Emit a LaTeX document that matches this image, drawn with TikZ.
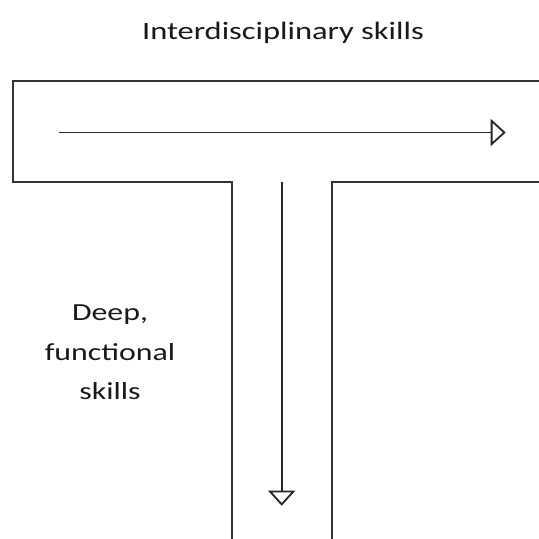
\documentclass[tikz,border=0pt]{standalone}
\usepackage{fontspec}
\setmainfont{Carlito}
\usetikzlibrary{arrows.meta}
\tikzset{
  outline/.style={draw=black!80, line width=2pt, line join=miter},
  flow/.style={draw=black!85, line width=1.8pt,
    -{Triangle[open, length=15pt, width=27pt, fill=white]}},
  label/.style={inner sep=0pt, xscale=1.3, text=black!90}
}
\begin{document}
\begin{tikzpicture}[x=1pt, y=1pt]
  \useasboundingbox (0,0) rectangle (539,539);
  \begin{scope}
    \clip (0,0) rectangle (539,539);
    % T-shaped outline: horizontal bar running off the right edge, stem running off the bottom
    \draw[outline] (545,458) -- (13.3,458) -- (13.3,357.3) -- (231.5,357.3) -- (231.5,-6);
    \draw[outline] (545,357.3) -- (332.3,357.3) -- (332.3,-6);
  \end{scope}
  % arrow end points
  \coordinate (hstart) at (59.3,406.5);
  \coordinate (hend) at (505.7,406.5);
  \coordinate (vstart) at (281.7,356.5);
  \coordinate (vend) at (281.7,33.3);
  \draw[flow] (hstart) -- (hend);
  \draw[flow] (vstart) -- (vend);
  % labels
  \node[label, anchor=base, font=\fontsize{25}{30}\selectfont] (title) at (283,499.7) {Interdisciplinary skills};
  \node[label, anchor=base, align=center, font=\fontsize{24.5}{40}\selectfont] (deep) at (110,139) {Deep,\\functional\\skills};
\end{tikzpicture}
\end{document}
